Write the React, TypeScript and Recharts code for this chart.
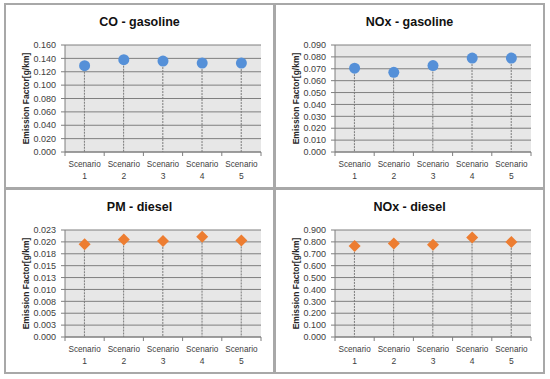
import React from 'react';
import { ComposedChart, XAxis, YAxis, CartesianGrid, Bar, Line, Label } from 'recharts';

const scenarios = ['1', '2', '3', '4', '5'];
const coGasoline = [0.129, 0.138, 0.136, 0.133, 0.133];
const noxGasoline = [0.0705, 0.067, 0.0727, 0.079, 0.079];
const pmDiesel = [0.0195, 0.0205, 0.0202, 0.0211, 0.0203];
const noxDiesel = [0.766, 0.786, 0.776, 0.836, 0.8];

const coTicks = [0, 0.02, 0.04, 0.06, 0.08, 0.1, 0.12, 0.14, 0.16];
const coLabels = ['0.000', '0.020', '0.040', '0.060', '0.080', '0.100', '0.120', '0.140', '0.160'];
const noxGTicks = [0, 0.01, 0.02, 0.03, 0.04, 0.05, 0.06, 0.07, 0.08, 0.09];
const noxGLabels = ['0.000', '0.010', '0.020', '0.030', '0.040', '0.050', '0.060', '0.070', '0.080', '0.090'];
const pmTicks = [0, 0.0025, 0.005, 0.0075, 0.01, 0.0125, 0.015, 0.0175, 0.02, 0.0225];
const pmLabels = ['0.000', '0.003', '0.005', '0.008', '0.010', '0.013', '0.015', '0.018', '0.020', '0.023'];
const noxDTicks = [0, 0.1, 0.2, 0.3, 0.4, 0.5, 0.6, 0.7, 0.8, 0.9];
const noxDLabels = ['0.000', '0.100', '0.200', '0.300', '0.400', '0.500', '0.600', '0.700', '0.800', '0.900'];

const BLUE = '#5590D8';
const ORANGE = '#ED7D31';
const GRID = '#7f7f7f';
const FONT = '"Liberation Sans", Arial, sans-serif';

const XTick = (props: any) => {
  const { x, y, payload, index, visibleTicksCount } = props;
  const half = payload && typeof payload.offset === 'number' && payload.offset > 0 ? payload.offset : 19.5;
  const last = index === (visibleTicksCount ?? 5) - 1;
  return (
    <g>
      <line x1={x - half} y1={y} x2={x - half} y2={y + 4} stroke={GRID} strokeWidth={1} />
      {last && <line x1={x + half} y1={y} x2={x + half} y2={y + 4} stroke={GRID} strokeWidth={1} />}
      <text x={x} y={y + 15} textAnchor="middle" fontSize={8.2} fill="#404040" fontFamily={FONT}>
        Scenario
      </text>
      <text x={x} y={y + 27} textAnchor="middle" fontSize={8.5} fill="#404040" fontFamily={FONT}>
        {payload.value}
      </text>
    </g>
  );
};

const DropLine = (props: any) => {
  const { x, y, width, height } = props;
  if (x == null || y == null) return null;
  const cx = x + width / 2;
  return <line x1={cx} y1={y} x2={cx} y2={y + height} stroke="#7a7a7a" strokeWidth={1} strokeDasharray="2 1" />;
};

const CircleDot = (props: any) => {
  const { cx, cy } = props;
  if (cx == null || cy == null) return null;
  return <circle cx={cx} cy={cy} r={5.5} fill={BLUE} stroke="none" />;
};

const DiamondDot = (props: any) => {
  const { cx, cy } = props;
  if (cx == null || cy == null) return null;
  const h = 6;
  return <path d={`M${cx},${cy - h}L${cx + h},${cy}L${cx},${cy + h}L${cx - h},${cy}Z`} fill={ORANGE} stroke="none" />;
};

const YLabel = (props: any) => {
  const vb = props.viewBox || { x: 0, y: 41, width: 61, height: 107 };
  const x = vb.x + 25;
  const y = vb.y + vb.height / 2;
  return (
    <text
      x={x}
      y={y}
      transform={`rotate(-90, ${x}, ${y})`}
      textAnchor="middle"
      fontSize={8.5}
      fontWeight="bold"
      fill="#262626"
      fontFamily={FONT}
    >
      Emission Factor[g/km]
    </text>
  );
};

type PanelProps = {
  left: number;
  top: number;
  title: string;
  values: number[];
  ticks: number[];
  labels: string[];
  kind: 'circle' | 'diamond';
};

const Panel = ({ left, top, title, values, ticks, labels, kind }: PanelProps) => {
  const data = scenarios.map((s, i) => ({ name: s, v: values[i] }));
  const max = ticks[ticks.length - 1];
  return (
    <div
      style={{
        position: 'absolute',
        left,
        top,
        width: 271,
        height: 186,
        border: '2px solid #a8a8a8',
        boxSizing: 'border-box',
        background: '#fff',
      }}
    >
      <div
        style={{
          position: 'absolute',
          left: 0,
          top: 10,
          width: 267,
          textAlign: 'center',
          fontFamily: FONT,
          fontWeight: 'bold',
          fontSize: 12.5,
          color: '#111',
        }}
      >
        {title}
      </div>
      <div style={{ position: 'absolute', left: -2, top: -2 }}>
        <ComposedChart width={271} height={186} data={data} margin={{ top: 42, right: 14, bottom: 0, left: 0 }}>
          <CartesianGrid vertical={false} stroke={GRID} fill="#e7e7e7" strokeWidth={1} />
          <XAxis
            dataKey="name"
            tickLine={false}
            tickSize={0}
            tickMargin={0}
            axisLine={{ stroke: GRID }}
            tick={<XTick />}
            interval={0}
            height={37}
          />
          <YAxis
            width={61}
            domain={[0, max]}
            ticks={ticks}
            interval={0}
            tickSize={4}
            tickMargin={5}
            tickLine={{ stroke: GRID }}
            axisLine={{ stroke: GRID }}
            tick={{ fontSize: 9, fill: '#404040', fontFamily: FONT }}
            tickFormatter={(v: number) => {
              const i = ticks.indexOf(v);
              return i >= 0 ? labels[i] : String(v);
            }}
          >
            <Label content={<YLabel />} />
          </YAxis>
          <Bar dataKey="v" shape={<DropLine />} isAnimationActive={false} />
          <Line
            dataKey="v"
            stroke="none"
            dot={kind === 'circle' ? <CircleDot /> : <DiamondDot />}
            activeDot={false}
            isAnimationActive={false}
          />
        </ComposedChart>
      </div>
    </div>
  );
}

export default function App() {
  return (
    <div style={{ position: 'absolute', left: 0, top: 0, width: 550, height: 379, background: '#fff' }}>
      <Panel left={4} top={3} title="CO - gasoline" values={coGasoline} ticks={coTicks} labels={coLabels} kind="circle" />
      <Panel left={274} top={3} title="NOx - gasoline" values={noxGasoline} ticks={noxGTicks} labels={noxGLabels} kind="circle" />
      <Panel left={4} top={188} title="PM - diesel" values={pmDiesel} ticks={pmTicks} labels={pmLabels} kind="diamond" />
      <Panel left={274} top={188} title="NOx - diesel" values={noxDiesel} ticks={noxDTicks} labels={noxDLabels} kind="diamond" />
    </div>
  );
}
